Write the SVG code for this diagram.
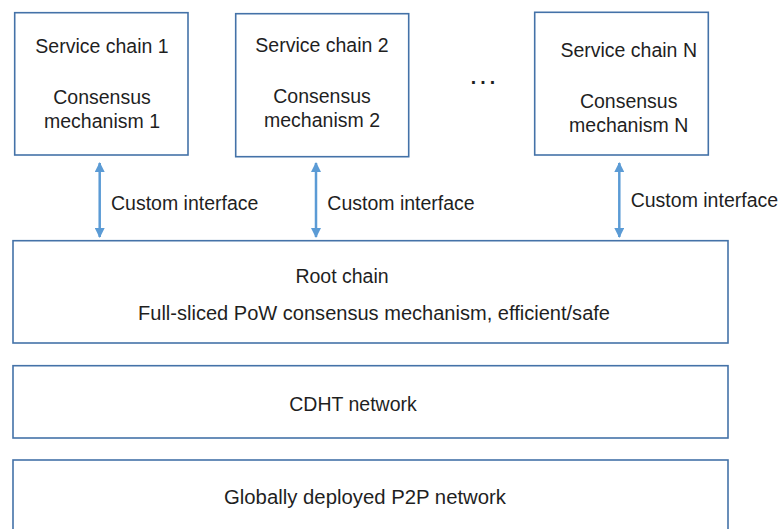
<svg xmlns="http://www.w3.org/2000/svg" width="782" height="529" viewBox="0 0 782 529">
<defs>
<style>
.box{fill:#fff;stroke:#4472A8;stroke-width:1.6}
.t{font-family:"Liberation Sans",Arial,sans-serif;font-size:19.5px;fill:#1f1f1f;text-anchor:middle}
.l{font-family:"Liberation Sans",Arial,sans-serif;font-size:19.5px;fill:#1f1f1f}
.c{stroke:#5B9BD5;stroke-width:2.5;fill:none;marker-start:url(#a);marker-end:url(#a)}
</style>
<marker id="a" viewBox="0 0 10 10" refX="9" refY="5" markerWidth="4" markerHeight="4" orient="auto-start-reverse" markerUnits="strokeWidth">
<path d="M0,0 L10,5 L0,10 z" fill="#5B9BD5"/>
</marker>
</defs>
<rect width="782" height="529" fill="#fff"/>
<g id="connectors">
<line class="c" x1="99.7" y1="163" x2="99.7" y2="237"/>
<line class="c" x1="316" y1="163" x2="316" y2="237"/>
<line class="c" x1="619.3" y1="163" x2="619.3" y2="237"/>
<text class="l" x="111" y="210">Custom interface</text>
<text class="l" x="327.3" y="210">Custom interface</text>
<text class="l" x="630.7" y="207">Custom interface</text>
</g>
<g id="service1">
<rect class="box" x="14.7" y="12.7" width="173.3" height="142.3"/>
<text class="t" x="102" y="53">Service chain 1</text>
<text class="t" x="102" y="104">Consensus</text>
<text class="t" x="102" y="128">mechanism 1</text>
</g>
<g id="service2">
<rect class="box" x="235.7" y="13.7" width="173" height="143"/>
<text class="t" x="322" y="52">Service chain 2</text>
<text class="t" x="322" y="103">Consensus</text>
<text class="t" x="322" y="127">mechanism 2</text>
</g>
<g id="ellipsis">
<text class="t" x="485" y="84" style="letter-spacing:4px;font-weight:bold">...</text>
</g>
<g id="serviceN">
<rect class="box" x="534.7" y="12.3" width="173.6" height="142.7"/>
<text class="t" x="628.7" y="57">Service chain N</text>
<text class="t" x="628.7" y="108">Consensus</text>
<text class="t" x="628.7" y="132">mechanism N</text>
</g>
<g id="root">
<rect class="box" x="13" y="240.7" width="715" height="102.3"/>
<text class="t" x="342" y="283">Root chain</text>
<text class="t" x="374" y="320" textLength="472" lengthAdjust="spacingAndGlyphs">Full-sliced PoW consensus mechanism, efficient/safe</text>
</g>
<g id="cdht">
<rect class="box" x="13" y="365.7" width="715" height="72.3"/>
<text class="t" x="353" y="411">CDHT network</text>
</g>
<g id="p2p">
<rect class="box" x="13" y="460" width="715" height="80"/>
<text class="t" x="365" y="504" textLength="282" lengthAdjust="spacingAndGlyphs">Globally deployed P2P network</text>
</g>
</svg>
